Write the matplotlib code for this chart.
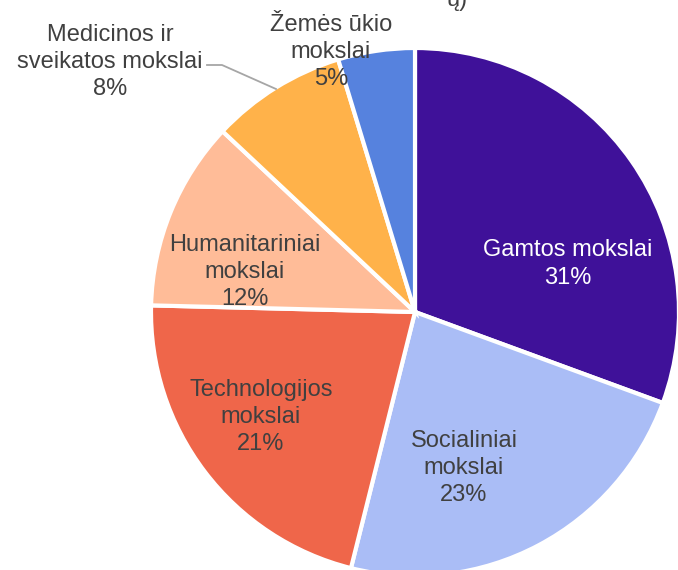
import matplotlib
matplotlib.use("Agg")
import matplotlib.pyplot as plt

categories = ["Gamtos mokslai", "Socialiniai mokslai", "Technologijos mokslai",
              "Humanitariniai mokslai", "Medicinos ir sveikatos mokslai", "Žemės ūkio mokslai"]
values = [30.6, 23.3, 21.5, 11.6, 8.3, 4.7]
pct_labels = ["31%", "23%", "21%", "12%", "8%", "5%"]
label_texts = ["Gamtos mokslai\n31%", "Socialiniai\nmokslai\n23%", "Technologijos\nmokslai\n21%",
               "Humanitariniai\nmokslai\n12%", "Medicinos ir\nsveikatos mokslai\n8%", "Žemės ūkio\nmokslai\n5%"]
colors = ["#3F1199", "#AABDF6", "#EF664A", "#FFBC98", "#FFB24A", "#5682DE"]

plt.rcParams['font.family'] = ['Liberation Sans', 'DejaVu Sans']

W, H = 678, 570
fig = plt.figure(figsize=(W / 100, H / 100), dpi=100)
ax = fig.add_axes([0, 0, 1, 1])

cx, cy, r = 415, H - 312, 264
ax.pie(values, colors=colors, startangle=90, counterclock=False,
       center=(cx, cy), radius=r, frame=True,
       wedgeprops=dict(edgecolor='white', linewidth=3))
ax.set_xlim(0, W)
ax.set_ylim(0, H)
ax.set_aspect('auto')
ax.axis('off')

# label positions in pixel coordinates (x, y of block center)
pos = [(568, 264), (464, 468), (261, 417), (245, 272), (110, 62), (331, 52)]
tcolors = ["white", "#404040", "#404040", "#404040", "#404040", "#404040"]
for txt, (px, py), c in zip(label_texts, pos, tcolors):
    ax.text(px, H - py, txt, ha='center', va='center', fontsize=17,
            color=c, linespacing=1.3)

# leader line for Medicinos
ax.plot([207, 222, 276], [H - 65, H - 65, H - 89], color='#A6A6A6', lw=1.3)

# clipped title fragment
ax.text(457, H - 6, "ų)", ha='center', va='baseline', fontsize=17, color='#404040', clip_on=False)

fig.savefig("out.png", dpi=100)
